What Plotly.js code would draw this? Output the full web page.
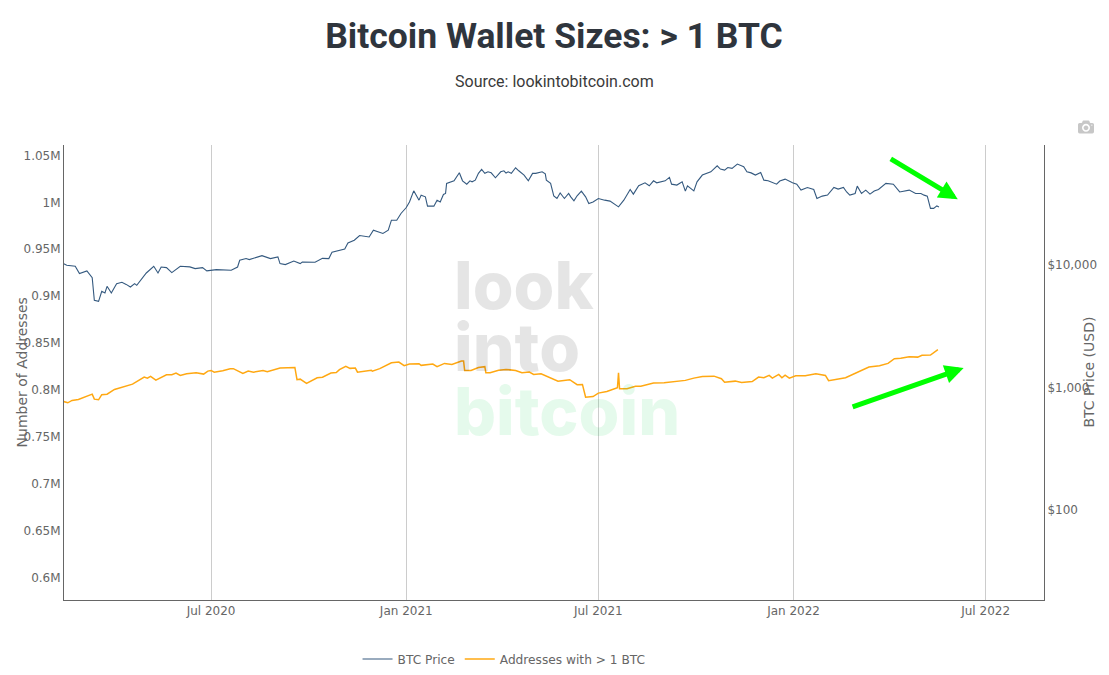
<!DOCTYPE html>
<html>
<head>
<meta charset="utf-8">
<script src="https://cdn.plot.ly/plotly-2.35.2.min.js"></script>
<style>
html, body { margin: 0; padding: 0; background: #fff; }
#chart { width: 1109px; height: 675px; }
.modebar-container .modebar { top: 115px !important; right: 11px !important; }
</style>
</head>
<body>
<div id="chart"></div>
<script>
const priceDates = ['2020-02-13','2020-02-16','2020-02-24','2020-02-28','2020-03-06','2020-03-11','2020-03-13','2020-03-17','2020-03-20','2020-03-23','2020-03-25','2020-03-29','2020-04-03','2020-04-08','2020-04-12','2020-04-16','2020-04-20','2020-04-22','2020-05-01','2020-05-08','2020-05-12','2020-05-15','2020-05-20','2020-05-25','2020-06-02','2020-06-11','2020-06-16','2020-06-23','2020-06-27','2020-07-06','2020-07-20','2020-07-26','2020-07-28','2020-08-03','2020-08-06','2020-08-18','2020-08-26','2020-09-02','2020-09-04','2020-09-09','2020-09-17','2020-09-23','2020-09-25','2020-10-07','2020-10-14','2020-10-20','2020-10-23','2020-11-04','2020-11-07','2020-11-13','2020-11-18','2020-11-27','2020-12-01','2020-12-10','2020-12-15','2020-12-18','2020-12-23','2020-12-27','2021-01-01','2021-01-04','2021-01-08','2021-01-13','2021-01-15','2021-01-19','2021-01-21','2021-01-27','2021-01-30','2021-02-02','2021-02-05','2021-02-07','2021-02-08','2021-02-15','2021-02-20','2021-02-23','2021-02-27','2021-03-02','2021-03-04','2021-03-07','2021-03-10','2021-03-13','2021-03-16','2021-03-19','2021-03-22','2021-03-26','2021-03-31','2021-04-03','2021-04-05','2021-04-07','2021-04-10','2021-04-12','2021-04-14','2021-04-17','2021-04-22','2021-04-26','2021-04-30','2021-05-03','2021-05-09','2021-05-12','2021-05-13','2021-05-17','2021-05-19','2021-05-20','2021-05-23','2021-05-26','2021-05-30','2021-06-03','2021-06-05','2021-06-08','2021-06-11','2021-06-15','2021-06-19','2021-06-22','2021-06-26','2021-07-01','2021-07-07','2021-07-12','2021-07-20','2021-07-25','2021-07-31','2021-08-03','2021-08-08','2021-08-14','2021-08-18','2021-08-22','2021-08-25','2021-08-29','2021-09-02','2021-09-06','2021-09-08','2021-09-13','2021-09-18','2021-09-21','2021-09-23','2021-09-29','2021-10-02','2021-10-07','2021-10-15','2021-10-21','2021-10-24','2021-10-28','2021-10-31','2021-11-04','2021-11-09','2021-11-15','2021-11-18','2021-11-22','2021-11-26','2021-12-01','2021-12-04','2021-12-08','2021-12-13','2021-12-16','2021-12-19','2021-12-24','2021-12-31','2022-01-04','2022-01-08','2022-01-14','2022-01-20','2022-01-23','2022-01-28','2022-02-02','2022-02-08','2022-02-12','2022-02-17','2022-02-20','2022-02-23','2022-02-28','2022-03-02','2022-03-06','2022-03-10','2022-03-14','2022-03-18','2022-03-22','2022-03-29','2022-04-05','2022-04-11','2022-04-15','2022-04-20','2022-04-26','2022-05-01','2022-05-04','2022-05-07','2022-05-10','2022-05-13','2022-05-16','2022-05-18'];
const priceValues = [10325,10000,9813,8550,8980,7930,5165,5070,6120,5930,6730,5930,7080,7255,6980,6640,7080,6855,8650,9813,8650,9680,9570,8710,9813,9700,9400,9570,9000,9220,9100,9680,10990,11350,11130,12000,11350,11700,10320,10130,10840,10320,10640,10580,11400,11350,12790,13600,15230,16030,17520,17060,19360,18200,19360,23380,23380,26540,29700,33000,40640,34100,37500,36300,30470,30470,34100,33000,38000,38700,46800,49100,57100,49100,46100,49100,48200,49700,56500,60800,56500,58200,57100,52000,58200,59300,56800,58200,56500,59300,62800,59300,54700,49100,56500,56500,58200,56000,49700,46800,41200,37000,35200,39100,35200,38700,36300,33650,37000,40400,36300,32050,33000,35200,34100,33500,30050,34100,41700,38200,44700,47300,44700,49100,47300,48200,49100,52400,46100,45300,48200,40400,44700,40640,48200,54700,58200,65200,61200,60100,63000,62100,67300,64000,58200,57000,54700,57500,49700,49100,47300,46100,48900,50700,47300,46100,41200,43300,41700,35200,36800,37500,43300,42000,43300,39800,37500,38700,44400,38700,41200,38200,40500,41700,46800,46100,39800,40400,41200,38700,38700,37500,36800,29200,29200,30600,30000];

const addressDates = ['2020-02-13','2020-02-17','2020-02-21','2020-02-27','2020-03-11','2020-03-13','2020-03-17','2020-03-20','2020-03-25','2020-04-01','2020-04-18','2020-04-29','2020-05-02','2020-05-05','2020-05-10','2020-05-20','2020-05-25','2020-05-29','2020-06-02','2020-06-08','2020-06-17','2020-06-24','2020-06-28','2020-07-01','2020-07-04','2020-07-12','2020-07-19','2020-07-22','2020-07-31','2020-08-05','2020-08-10','2020-08-19','2020-08-23','2020-08-27','2020-09-04','2020-09-18','2020-09-20','2020-09-23','2020-09-29','2020-10-09','2020-10-14','2020-10-22','2020-10-27','2020-10-30','2020-11-05','2020-11-09','2020-11-14','2020-11-16','2020-11-24','2020-11-29','2020-11-30','2020-12-07','2020-12-18','2020-12-25','2020-12-30','2021-01-04','2021-01-13','2021-01-15','2021-01-26','2021-01-30','2021-02-06','2021-02-13','2021-02-22','2021-02-24','2021-02-25','2021-03-03','2021-03-10','2021-03-16','2021-03-17','2021-03-21','2021-03-29','2021-04-05','2021-04-14','2021-04-20','2021-04-27','2021-05-01','2021-05-08','2021-05-14','2021-05-24','2021-06-04','2021-06-11','2021-06-16','2021-06-19','2021-06-26','2021-07-01','2021-07-09','2021-07-15','2021-07-19','2021-07-20','2021-07-21','2021-07-28','2021-08-05','2021-08-10','2021-08-22','2021-09-01','2021-09-10','2021-09-21','2021-09-29','2021-10-07','2021-10-18','2021-10-25','2021-10-28','2021-11-07','2021-11-13','2021-11-23','2021-11-29','2021-12-04','2021-12-09','2021-12-12','2021-12-18','2021-12-21','2021-12-24','2021-12-28','2022-01-03','2022-01-12','2022-01-22','2022-01-31','2022-02-03','2022-02-19','2022-03-13','2022-03-23','2022-03-31','2022-04-06','2022-04-12','2022-04-20','2022-04-28','2022-05-02','2022-05-10','2022-05-17'];
const addressValues = [787700,786300,788800,789900,795500,790200,789500,794900,795500,800500,806200,813700,812600,814400,810500,816200,816300,818000,815500,817300,818400,816900,820100,820800,819000,820500,822700,822700,817600,820100,819000,820800,819400,820800,823300,824000,810900,811500,807000,813000,813500,818000,818500,821600,825100,823000,823300,819000,820500,821000,820000,822700,829000,829700,825900,827600,828000,826200,827600,824800,828300,827200,830800,830800,820800,820800,824000,824800,818400,818400,821000,821900,820800,818400,819000,816600,817300,814400,809400,810900,805600,805900,792300,793000,796600,798400,801300,802400,818400,801300,801300,804000,804000,807300,807700,809000,810200,812600,814400,814700,812000,808300,809400,808000,809000,813700,813000,815500,812600,816600,813000,815800,812600,815200,815200,817300,815500,809800,813000,824400,825900,828300,833300,833700,835500,835000,836900,837200,843000];

const leftTickVals = [600000,650000,700000,750000,800000,850000,900000,950000,1000000,1050000];
const leftTickText = ['0.6M','0.65M','0.7M','0.75M','0.8M','0.85M','0.9M','0.95M','1M','1.05M'];
const rightTickVals = [100,1000,10000];
const rightTickText = ['$100','$1,000','$10,000'];

const axisFont = { family: 'DejaVu Sans, sans-serif', size: 12, color: '#666' };
const axisTitleFont = { family: 'DejaVu Sans, sans-serif', size: 14, color: '#666' };
const axisLine = '#666';
const green = '#00ff00';

const traces = [
    {
        x: priceDates,
        y: priceValues,
        name: 'BTC Price',
        type: 'scatter',
        mode: 'lines',
        yaxis: 'y2',
        line: { color: '#34597f', width: 1.1 }
    },
    {
        x: addressDates,
        y: addressValues,
        name: 'Addresses with > 1 BTC',
        type: 'scatter',
        mode: 'lines',
        line: { color: '#ffa812', width: 1.5 }
    }
];

function watermark(word, y, color) {
    return {
        text: word, xref: 'paper', yref: 'paper', x: 0.396, y: y,
        xanchor: 'left', yanchor: 'middle', showarrow: false,
        font: { family: 'Inter, sans-serif', size: 66, color: color, weight: 800 }
    };
}

// the two green arrows sit in pixels, as they were drawn on top of the chart
function arrow(x, y, ax, ay) {
    return {
        text: ' ', xref: 'paper', yref: 'paper', x: x, y: y, ax: ax, ay: ay,
        showarrow: true, arrowhead: 2, arrowsize: 0.75, arrowwidth: 5, arrowcolor: green
    };
}

// axis titles overlap the tick labels in the original, so they are placed by hand
function axisTitle(text, x) {
    return {
        text: text, xref: 'paper', yref: 'paper', x: x, y: 0.5,
        xanchor: 'center', yanchor: 'middle', textangle: -90, showarrow: false,
        font: axisTitleFont
    };
}

const layout = {
    width: 1109,
    height: 675,
    margin: { l: 64, r: 65, t: 145, b: 75 },
    paper_bgcolor: '#fff',
    plot_bgcolor: '#fff',
    title: {
        text: '<b>Bitcoin Wallet Sizes: > 1 BTC</b>',
        font: { family: 'Roboto, sans-serif', size: 35.5, color: '#2f353d' },
        x: 0.4995, xanchor: 'center', y: 0.947, yanchor: 'middle'
    },
    xaxis: {
        type: 'date',
        range: ['2020-02-13 10:00', '2022-08-25'],
        dtick: 'M6',
        tick0: '2020-01-01',
        tickformat: '%b %Y',
        ticks: '',
        showgrid: true,
        gridcolor: '#ccc',
        zeroline: false,
        showline: true,
        linecolor: axisLine,
        tickfont: axisFont
    },
    yaxis: {
        range: [576000, 1061200],
        tickvals: leftTickVals,
        ticktext: leftTickText,
        showgrid: false,
        zeroline: false,
        showline: true,
        linecolor: axisLine,
        tickfont: axisFont
    },
    yaxis2: {
        type: 'log',
        overlaying: 'y',
        side: 'right',
        range: [1.262, 4.984],
        tickvals: rightTickVals,
        ticktext: rightTickText,
        showgrid: false,
        zeroline: false,
        showline: true,
        linecolor: axisLine,
        tickfont: axisFont
    },
    legend: {
        orientation: 'h',
        xref: 'container', yref: 'container',
        x: 0.4545, xanchor: 'center',
        y: 0.0237, yanchor: 'middle',
        font: { family: 'DejaVu Sans, sans-serif', size: 12.2, color: '#666' }
    },
    annotations: [
        {
            text: 'Source: lookintobitcoin.com', xref: 'paper', yref: 'paper', x: 0.5, y: 1.14,
            xanchor: 'center', yanchor: 'middle', showarrow: false,
            font: { family: 'Roboto, sans-serif', size: 16, color: '#3a3a3a' }
        },
        axisTitle('Number of Addresses', -0.0429),
        axisTitle('BTC Price (USD)', 1.045),
        watermark('look', 0.692, 'rgba(0,0,0,0.1)'),
        watermark('into', 0.555, 'rgba(0,0,0,0.1)'),
        watermark('bitcoin', 0.416, 'rgba(0,210,70,0.1)'),
        arrow(0.912, 0.881, -70, -42),
        arrow(0.918, 0.51, -114, 40)
    ]
};

Plotly.newPlot('chart', traces, layout, {
    displayModeBar: true,
    displaylogo: false,
    modeBarButtons: [['toImage']]
});
</script>
</body>
</html>
